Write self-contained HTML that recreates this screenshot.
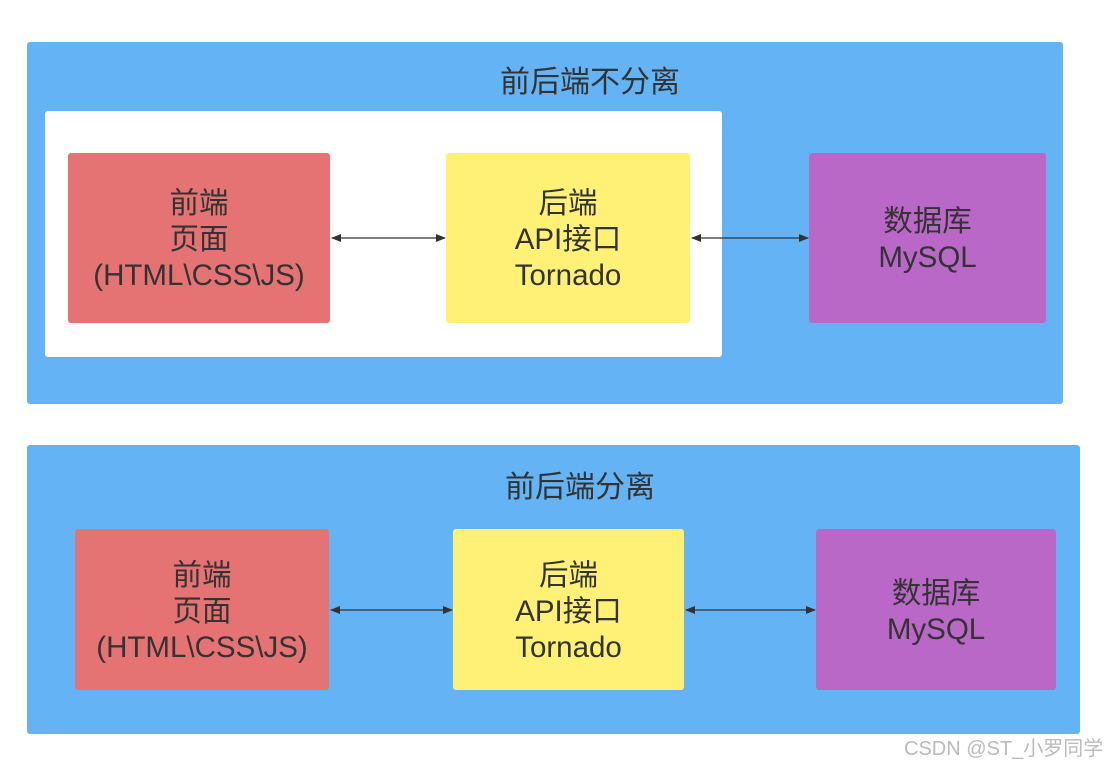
<!DOCTYPE html>
<html><head><meta charset="utf-8"><style>
body{margin:0;width:1114px;height:766px;background:#fff;position:relative;overflow:hidden;font-family:"Liberation Sans","Noto Sans CJK SC",sans-serif;color:#333}
.a{position:absolute}
.panel{background:#63b3f5;border-radius:3px}
.box{display:flex;align-items:center;justify-content:center;text-align:center;font-size:29.5px;line-height:36px;border-radius:3px;box-sizing:border-box;padding-top:4px}
.r{background:#e57373}.y{background:#fff176}.p{background:#ba68c8}
.t{font-size:30px;text-align:center}
</style></head><body>
<div class="a panel" style="left:27px;top:42px;width:1036px;height:362px"></div>
<div class="a" style="left:45px;top:111px;width:677px;height:246px;background:#fff;border-radius:3px"></div>
<div class="a t" style="left:440px;top:57px;width:300px">前后端不分离</div>
<div class="a box r" style="left:68px;top:153px;width:262px;height:170px">前端<br>页面<br>(HTML\CSS\JS)</div>
<div class="a box y" style="left:446px;top:153px;width:244px;height:170px">后端<br>API接口<br>Tornado</div>
<div class="a box p" style="left:809px;top:153px;width:237px;height:170px">数据库<br>MySQL</div>

<div class="a panel" style="left:27px;top:445px;width:1053px;height:289px"></div>
<div class="a t" style="left:430px;top:462px;width:300px">前后端分离</div>
<div class="a box r" style="left:75px;top:529px;width:254px;height:161px">前端<br>页面<br>(HTML\CSS\JS)</div>
<div class="a box y" style="left:453px;top:529px;width:231px;height:161px">后端<br>API接口<br>Tornado</div>
<div class="a box p" style="left:816px;top:529px;width:240px;height:161px">数据库<br>MySQL</div>

<svg class="a" style="left:0;top:0" width="1114" height="766">
<defs><marker id="m" markerWidth="10" markerHeight="8" refX="9" refY="4" orient="auto-start-reverse" markerUnits="userSpaceOnUse"><path d="M0,0 L10,4 L0,8 z" fill="#333"/></marker></defs>
<g stroke="#333" stroke-width="1.3" marker-start="url(#m)" marker-end="url(#m)">
<line x1="332" y1="238" x2="445" y2="238"/>
<line x1="692" y1="238" x2="808" y2="238"/>
<line x1="331" y1="610" x2="452" y2="610"/>
<line x1="686" y1="610" x2="815" y2="610"/>
</g></svg>
<div class="a" style="left:904px;top:732px;font-size:20px;color:#bbb">CSDN @ST_小罗同学</div>
</body></html>
